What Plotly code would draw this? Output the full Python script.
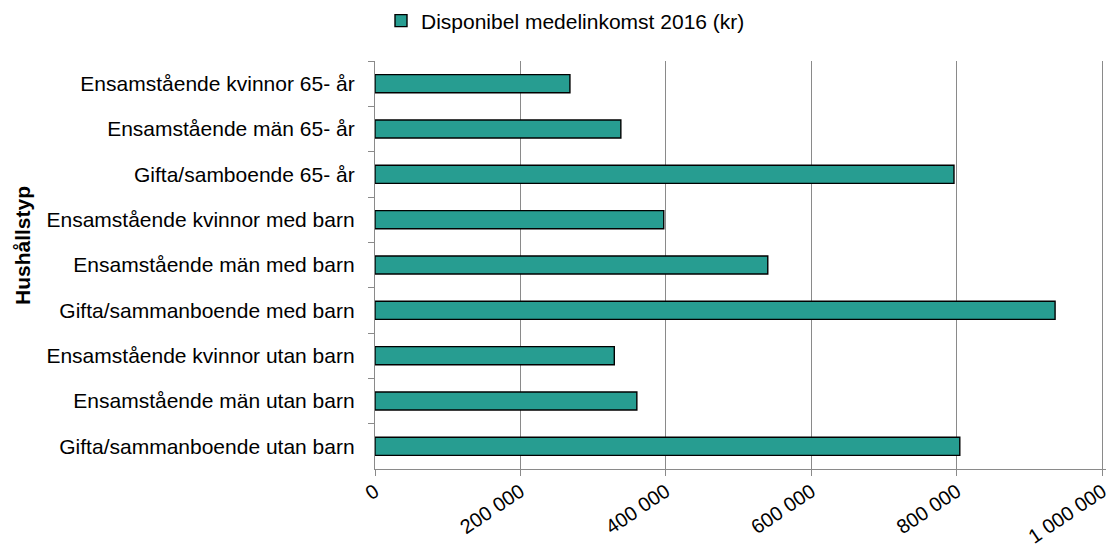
import plotly.graph_objects as go

categories = [
    "Ensamstående kvinnor 65- år",
    "Ensamstående män 65- år",
    "Gifta/samboende 65- år",
    "Ensamstående kvinnor med barn",
    "Ensamstående män med barn",
    "Gifta/sammanboende med barn",
    "Ensamstående kvinnor utan barn",
    "Ensamstående män utan barn",
    "Gifta/sammanboende utan barn",
]
income_2016 = [268000, 338000, 796000, 397000, 540000, 935000, 329000, 360000, 804000]
series_name = "Disponibel medelinkomst 2016 (kr)"
x_tickvals = [0, 200000, 400000, 600000, 800000, 1000000]
x_ticktext = ["0", "200 000", "400 000", "600 000", "800 000", "1 000 000"]
y_title = "Hushållstyp"

FONT = "Arial, Liberation Sans, sans-serif"
GRID = "#8a8a8a"

W, H = 1110, 544
ML, MR, MT, MB = 375, 4, 61, 75
PW, PH = W - ML - MR, H - MT - MB

fig = go.Figure()
fig.add_trace(go.Bar(
    x=income_2016,
    y=categories,
    orientation="h",
    name=series_name,
    width=0.4,
    marker=dict(color="#279D91", line=dict(color="#000000", width=1.4)),
    showlegend=True,
))

fig.update_layout(
    width=W,
    height=H,
    margin=dict(l=ML, r=MR, t=MT, b=MB, autoexpand=False),
    paper_bgcolor="white",
    plot_bgcolor="white",
    font=dict(family=FONT, size=21, color="#000000"),
    showlegend=True,
    legend=dict(
        orientation="h",
        xref="container", yref="container",
        x=381 / W, xanchor="left",
        y=(H - 21) / H, yanchor="middle",
        font=dict(family=FONT, size=21, color="#000000"),
        bgcolor="rgba(0,0,0,0)",
    ),
    xaxis=dict(
        range=[0, 1005000],
        tickvals=x_tickvals,
        ticktext=x_ticktext,
        tickangle=-34,
        automargin=False,
        ticklabeloverflow="allow",
        ticklabelstandoff=-4,
        showgrid=True,
        gridcolor=GRID,
        gridwidth=1.3,
        showline=True,
        linecolor=GRID,
        linewidth=1.3,
        ticks="outside",
        ticklen=6,
        tickcolor=GRID,
        tickwidth=1.3,
        zeroline=False,
        tickfont=dict(family=FONT, size=20, color="#000000"),
        fixedrange=True,
    ),
    yaxis=dict(
        autorange="reversed",
        type="category",
        automargin=False,
        showgrid=False,
        showline=True,
        linecolor=GRID,
        linewidth=1.3,
        ticks="outside",
        tickson="boundaries",
        ticklen=6,
        tickcolor=GRID,
        tickwidth=1.3,
        ticklabelstandoff=15,
        tickfont=dict(family=FONT, size=21, color="#000000"),
        fixedrange=True,
    ),
    annotations=[
        dict(
            text="<b>" + y_title + "</b>",
            xref="paper", yref="paper",
            x=(22 - ML) / PW, y=(H - MB - 246) / PH,
            xanchor="center", yanchor="middle",
            textangle=-90,
            showarrow=False,
            font=dict(family=FONT, size=21, color="#000000"),
        )
    ],
)

fig.write_html(
    "out.html",
    config={"displayModeBar": False},
    post_script="document.body.style.margin='0px';document.body.style.padding='0px';",
)
